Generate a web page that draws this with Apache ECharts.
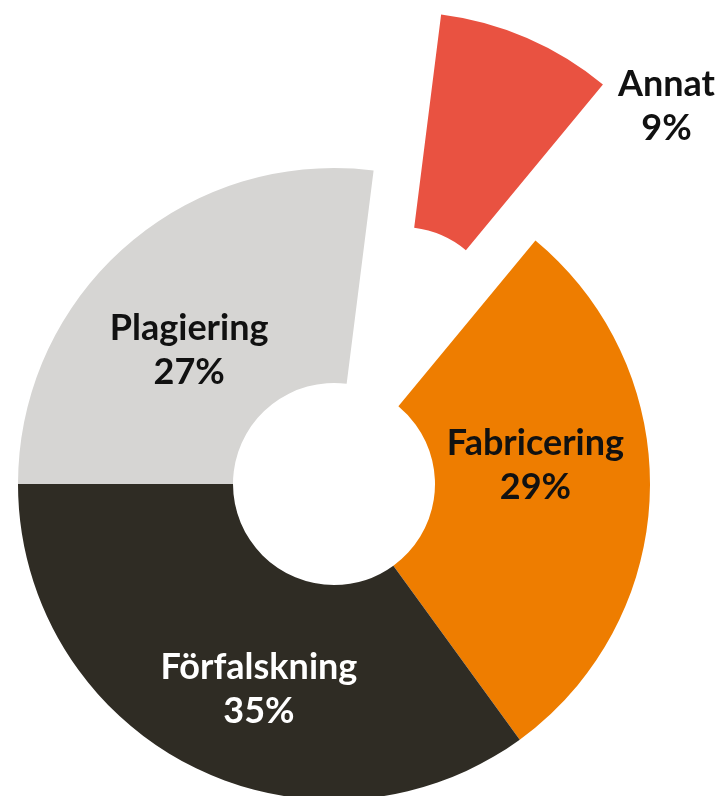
<!DOCTYPE html>
<html>
<head>
<meta charset="utf-8">
<script src="https://cdn.jsdelivr.net/npm/echarts@6/dist/echarts.min.js"></script>
<style>
  html, body { margin: 0; padding: 0; background: #fff; }
  #chart { width: 722px; height: 796px; }
</style>
</head>
<body>
<div id="chart"></div>
<script>
  // kategorier i medurs ordning, med start klockan nio
  var categories = ['Plagiering', 'Annat', 'Fabricering', 'Förfalskning'];
  var shares = [27, 9, 29, 35];
  var colors = ['#d6d5d3', '#e95241', '#ee7d00', '#2f2c24'];
  var labelColors = ['#111', '#111', '#111', '#fff'];
  var exploded = ['Annat'];

  // finjustering av etiketterna (px)
  var labelShift = [[-5, 25], [181, -27], [-10, -25], [21, 17]];

  var chart = echarts.init(document.getElementById('chart'));

  var pieData = categories.map(function (name, i) {
    return {
      name: name,
      value: shares[i],
      selected: exploded.indexOf(name) >= 0,
      itemStyle: { color: colors[i] },
      label: { color: labelColors[i] }
    };
  });

  var option = {
    animation: false,
    series: [{
      type: 'pie',
      center: [334, 484],
      radius: [101, 316],
      startAngle: 180,
      clockwise: true,
      selectedMode: 'single',
      selectedOffset: 170,
      avoidLabelOverlap: false,
      select: {
        itemStyle: { borderWidth: 0 }
      },
      itemStyle: { borderWidth: 0 },
      label: {
        show: true,
        position: 'inside',
        formatter: '{b}\n{c}%',
        fontFamily: 'Lato',
        fontWeight: 'bold',
        fontSize: 36,
        lineHeight: 44,
        align: 'center'
      },
      labelLine: { show: false },
      labelLayout: function (params) {
        var s = labelShift[params.dataIndex];
        return { dx: s[0], dy: s[1] };
      },
      data: pieData
    }]
  };

  chart.setOption(option);
</script>
</body>
</html>
